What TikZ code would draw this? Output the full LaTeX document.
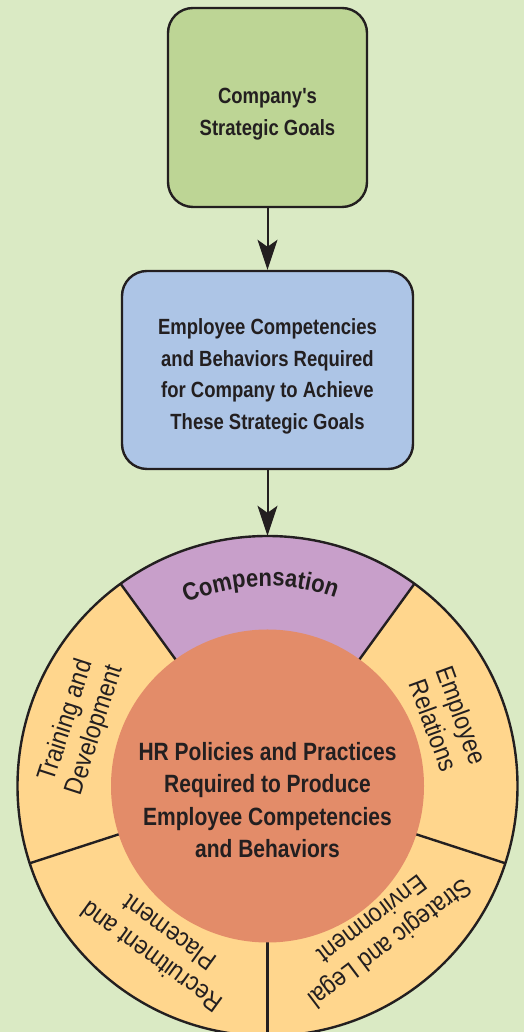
\documentclass[tikz,border=0pt]{standalone}
\usepackage{fontspec}
\setmainfont{Liberation Sans}
\newfontfamily\narrowfont{Liberation Sans}[FakeStretch=0.84]
\newfontfamily\ringfont{Liberation Sans}[FakeStretch=0.88]
\usepackage{xcolor}
\usetikzlibrary{arrows.meta, calc, decorations.text}
\definecolor{Backdrop} {HTML}{DAEAC4}
\definecolor{GoalGreen}{HTML}{BDD595}
\definecolor{SkyBlue}  {HTML}{ADC5E6}
\definecolor{Lilac}    {HTML}{C89FCA}
\definecolor{Straw}    {HTML}{FFD68D}
\definecolor{Salmon}   {HTML}{E38C69}
\definecolor{Ink}      {HTML}{231F20}

\begin{document}
\begin{tikzpicture}[x=1pt, y=1pt, text=Ink,
  box/.style={draw=Ink, line width=2.4pt, rounded corners=25pt, align=center,
              inner sep=0pt, font=\narrowfont\bfseries\fontsize{22}{31.5}\selectfont},
  flow/.style={draw=Ink, line width=2pt, -{Stealth[length=30pt, width=20pt, inset=7pt]}},
  divider/.style={draw=Ink, line width=2.4pt},
  ringlabel/.style={align=center, font=\ringfont\fontsize{26}{30}\selectfont}]
  % page and backdrop
  \path[use as bounding box, fill=Backdrop] (0,0) rectangle (524,1032);

  % the two boxes on top (the rule pushes the lines a little down)
  \node[box, fill=GoalGreen, minimum width=199pt, minimum height=199pt] (goals) at (267.5,924.5)
    {\rule{0pt}{29pt}Company's\\Strategic Goals};
  \node[box, fill=SkyBlue, minimum width=291pt, minimum height=198pt] (competencies) at (267.5,662)
    {\rule{0pt}{29pt}Employee Competencies\\and Behaviors Required\\for Company to Achieve\\These Strategic Goals};

  % wheel: five sectors of 72 degrees round the core
  \begin{scope}[shift={(267.5,246)}]
    \node[circle, fill=Straw, minimum size=500pt, inner sep=0pt] (wheel) at (0,0) {};
    \fill[Lilac] (0,0) -- (54:250) arc[start angle=54, end angle=126, radius=250] -- cycle;
    \foreach \a in {54,126,198,270,342}
      \draw[divider] (\a:150) -- (\a:250);
    \draw[divider] (wheel.center) circle (250);
    \node[circle, fill=Salmon, minimum size=313pt, inner sep=0pt] (core) at (0,0) {};
    \node[align=center, font=\narrowfont\bfseries\fontsize{25}{32.5}\selectfont] (hrtext) at (0,-14)
      {HR Policies and Practices\\Required to Produce\\Employee Competencies\\and Behaviors};
    % sector labels, tops facing outward
    \path[decorate, decoration={text along path, text align=center, text color=Ink,
      text={|\ringfont\bfseries\fontsize{25}{25}\selectfont|Compensation}}]
      (127:200) arc[start angle=127, end angle=57, radius=200];
    \node[ringlabel, rotate=72]   (training) at (162:196) {Training and\\Development};
    \node[ringlabel, rotate=-70]  (relations) at (20:192) {Employee\\Relations};
    \node[ringlabel, rotate=144]  (recruit) at (236:192) {Recruitment and\\Placement};
    \node[ringlabel, rotate=217]  (legal) at (308:185) {Strategic and Legal\\Environment};
  \end{scope}

  % connectors
  \draw[flow] (goals.south) -- (competencies.north);
  \draw[flow] (competencies.south) -- (wheel.north);
\end{tikzpicture}
\end{document}
